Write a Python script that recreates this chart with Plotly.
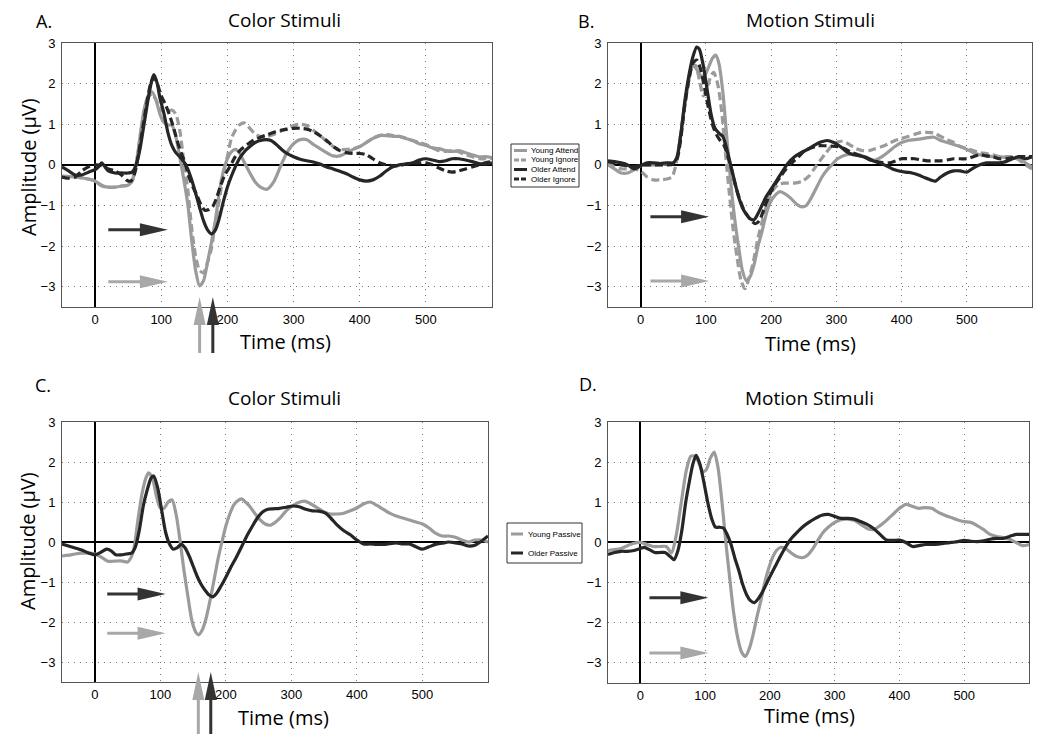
import plotly.graph_objects as go

W, H = 1050, 734
PAGE_OFFSET = 8  # browser body margin: the figure is drawn 8px right/down in the window

# ---------------- data (time ms, amplitude uV) ----------------
A_YOUNG_ATTEND = [(-50,-0.28),(-30,-0.3),(-10,-0.35),(0,-0.4),(10,-0.52),(20,-0.55),(30,-0.55),(40,-0.52),(50,-0.5),(56,-0.4),(62,0.0),(68,0.7),(74,1.35),(80,1.7),(86,1.8),(92,1.6),(98,1.25),(104,1.05),(110,0.98),(116,0.98),(122,0.7),(128,0.2),(134,-0.35),(140,-0.95),(146,-1.85),(152,-2.6),(158,-2.98),(164,-2.85),(170,-2.4),(176,-1.9),(182,-1.35),(188,-0.65),(194,-0.15),(200,0.15),(206,0.32),(212,0.38),(218,0.3),(226,0.05),(234,-0.2),(242,-0.42),(250,-0.55),(260,-0.6),(270,-0.42),(280,-0.05),(290,0.3),(300,0.52),(310,0.62),(320,0.62),(330,0.5),(340,0.4),(350,0.3),(360,0.22),(370,0.22),(380,0.3),(390,0.38),(400,0.45),(410,0.55),(420,0.65),(430,0.72),(440,0.72),(450,0.7),(460,0.7),(470,0.65),(480,0.6),(490,0.52),(500,0.48),(510,0.42),(520,0.4),(530,0.35),(540,0.33),(550,0.35),(560,0.3),(570,0.25),(580,0.2),(590,0.2),(600,0.18)]
A_YOUNG_IGNORE = [(-50,-0.3),(-30,-0.3),(-10,-0.35),(0,-0.4),(10,-0.5),(20,-0.55),(30,-0.55),(40,-0.52),(50,-0.5),(56,-0.4),(62,0.0),(68,0.7),(74,1.3),(80,1.65),(86,1.75),(92,1.6),(98,1.4),(104,1.3),(110,1.32),(116,1.35),(122,1.25),(128,0.85),(134,0.1),(140,-0.6),(146,-1.55),(152,-2.25),(158,-2.6),(164,-2.66),(170,-2.4),(176,-2.05),(182,-1.4),(188,-0.85),(194,-0.2),(200,0.2),(206,0.65),(212,0.85),(218,0.98),(226,1.03),(234,0.9),(242,0.76),(250,0.7),(260,0.7),(270,0.75),(280,0.82),(290,0.9),(300,0.97),(310,1.0),(320,0.97),(330,0.85),(340,0.72),(350,0.58),(360,0.45),(370,0.38),(380,0.38),(390,0.4),(400,0.45),(410,0.55),(420,0.65),(430,0.72),(440,0.75),(450,0.72),(460,0.7),(470,0.65),(480,0.6),(490,0.55),(500,0.5),(510,0.42),(520,0.35),(530,0.33),(540,0.35),(550,0.32),(560,0.25),(570,0.2),(580,0.15),(590,0.15),(600,0.15)]
A_OLDER_ATTEND = [(-50,-0.05),(-40,-0.15),(-30,-0.25),(-20,-0.25),(-10,-0.18),(0,-0.12),(5,-0.05),(10,0.05),(15,-0.05),(20,-0.15),(30,-0.2),(40,-0.2),(50,-0.2),(56,-0.18),(62,0.0),(68,0.4),(74,1.0),(80,1.6),(86,2.1),(89,2.22),(94,2.0),(98,1.65),(104,1.27),(110,0.8),(116,0.48),(122,0.3),(128,0.2),(134,0.08),(140,-0.1),(146,-0.37),(152,-0.7),(158,-1.05),(164,-1.38),(170,-1.6),(176,-1.7),(182,-1.6),(188,-1.3),(194,-0.9),(200,-0.55),(206,-0.28),(212,-0.05),(218,0.15),(226,0.33),(234,0.45),(242,0.55),(250,0.6),(258,0.62),(266,0.6),(274,0.5),(282,0.38),(290,0.28),(300,0.2),(310,0.14),(320,0.1),(330,0.07),(340,0.02),(350,-0.05),(360,-0.1),(370,-0.16),(380,-0.22),(390,-0.3),(400,-0.37),(410,-0.4),(420,-0.37),(430,-0.28),(440,-0.15),(450,-0.05),(460,0.0),(470,0.02),(480,0.05),(490,0.12),(500,0.15),(510,0.12),(520,0.08),(530,0.1),(540,0.15),(550,0.15),(560,0.12),(570,0.08),(580,0.03),(590,0.02),(600,0.05)]
A_OLDER_IGNORE = [(-50,-0.3),(-40,-0.33),(-30,-0.3),(-20,-0.15),(-10,-0.05),(0,0.0),(10,-0.02),(20,-0.1),(30,-0.15),(40,-0.25),(48,-0.38),(54,-0.4),(60,-0.2),(66,0.3),(72,0.9),(78,1.5),(84,2.0),(89,2.15),(94,2.0),(100,1.7),(106,1.5),(112,1.25),(118,0.95),(124,0.6),(130,0.3),(136,0.05),(142,-0.3),(148,-0.55),(154,-0.75),(160,-0.98),(166,-1.12),(172,-1.1),(178,-1.02),(184,-0.8),(190,-0.5),(196,-0.25),(204,-0.04),(212,0.2),(220,0.37),(230,0.5),(240,0.61),(250,0.68),(260,0.74),(270,0.8),(284,0.86),(300,0.9),(310,0.9),(320,0.88),(330,0.82),(340,0.72),(350,0.6),(360,0.45),(370,0.35),(380,0.3),(390,0.28),(400,0.28),(410,0.25),(420,0.15),(430,0.05),(440,0.0),(450,-0.02),(460,-0.02),(470,0.02),(480,0.04),(490,0.05),(500,0.05),(510,0.0),(520,-0.08),(530,-0.15),(540,-0.18),(550,-0.15),(560,-0.1),(570,-0.05),(580,0.0),(590,0.05),(600,0.08)]

B_YOUNG_ATTEND = [(-50,0.0),(-40,-0.1),(-30,-0.2),(-20,-0.2),(-10,-0.12),(0,-0.02),(10,0.0),(20,0.0),(30,0.0),(40,0.02),(50,0.05),(56,0.2),(62,0.8),(68,1.5),(74,2.1),(80,2.45),(86,2.35),(92,2.2),(98,2.2),(104,2.4),(110,2.62),(115,2.7),(120,2.5),(126,1.8),(132,0.7),(138,-0.4),(144,-1.3),(150,-2.0),(156,-2.6),(162,-2.85),(168,-2.75),(174,-2.45),(180,-2.0),(186,-1.65),(192,-1.25),(198,-0.95),(206,-0.75),(214,-0.66),(222,-0.72),(230,-0.82),(238,-0.95),(246,-1.03),(254,-1.0),(262,-0.8),(270,-0.55),(278,-0.3),(286,-0.12),(294,0.02),(302,0.15),(310,0.22),(320,0.26),(330,0.27),(340,0.22),(350,0.15),(360,0.12),(370,0.2),(380,0.32),(390,0.45),(400,0.55),(410,0.6),(420,0.62),(430,0.64),(440,0.67),(450,0.68),(460,0.6),(470,0.55),(480,0.5),(490,0.45),(500,0.38),(510,0.3),(520,0.25),(530,0.22),(540,0.2),(550,0.2),(560,0.18),(570,0.17),(580,0.15),(590,0.05),(600,-0.05)]
B_YOUNG_IGNORE = [(-50,0.05),(-40,-0.05),(-30,-0.1),(-20,-0.1),(-10,-0.1),(0,-0.15),(10,-0.3),(20,-0.37),(30,-0.37),(40,-0.35),(48,-0.3),(54,0.0),(60,0.6),(66,1.3),(72,1.9),(78,2.4),(84,2.45),(90,2.1),(96,1.7),(102,1.9),(108,2.2),(112,2.28),(118,2.0),(124,1.35),(130,0.3),(136,-0.7),(142,-1.6),(148,-2.3),(154,-2.85),(160,-3.05),(166,-2.8),(172,-2.45),(180,-1.8),(188,-1.3),(196,-0.86),(204,-0.6),(212,-0.48),(220,-0.45),(236,-0.45),(248,-0.4),(258,-0.28),(266,-0.1),(274,0.08),(282,0.25),(292,0.45),(300,0.55),(310,0.58),(320,0.5),(330,0.4),(340,0.35),(350,0.35),(360,0.4),(370,0.45),(380,0.52),(390,0.6),(400,0.65),(410,0.7),(420,0.75),(430,0.8),(440,0.8),(450,0.78),(460,0.7),(470,0.62),(480,0.55),(490,0.45),(500,0.4),(510,0.35),(520,0.3),(530,0.28),(540,0.25),(550,0.2),(560,0.2),(570,0.2),(580,0.12),(590,0.0),(600,-0.1)]
B_OLDER_ATTEND = [(-50,0.1),(-40,0.08),(-30,0.05),(-20,0.0),(-10,-0.1),(0,-0.02),(10,0.05),(20,0.05),(30,0.03),(40,0.05),(50,0.05),(56,0.2),(62,0.8),(68,1.6),(74,2.2),(80,2.65),(86,2.9),(90,2.85),(96,2.45),(102,1.85),(108,1.25),(114,0.9),(120,0.78),(126,0.7),(132,0.4),(138,0.0),(144,-0.4),(150,-0.78),(156,-1.05),(162,-1.22),(168,-1.33),(174,-1.35),(180,-1.2),(186,-1.0),(192,-0.8),(200,-0.6),(208,-0.4),(216,-0.2),(226,0.04),(236,0.2),(246,0.3),(256,0.38),(266,0.48),(276,0.56),(286,0.6),(296,0.55),(306,0.45),(316,0.32),(326,0.25),(336,0.22),(346,0.18),(356,0.1),(366,0.05),(376,-0.02),(386,-0.1),(396,-0.15),(406,-0.18),(416,-0.2),(426,-0.25),(436,-0.32),(446,-0.38),(452,-0.4),(460,-0.3),(470,-0.2),(480,-0.15),(490,-0.15),(500,-0.18),(510,-0.08),(520,0.0),(530,0.05),(540,0.05),(550,0.05),(560,0.08),(570,0.15),(580,0.2),(590,0.15),(600,0.2)]
B_OLDER_IGNORE = [(-50,0.08),(-40,0.05),(-30,0.0),(-20,-0.02),(-10,-0.05),(0,0.0),(10,0.0),(20,0.0),(30,0.0),(40,0.0),(50,0.02),(56,0.15),(62,0.7),(68,1.5),(74,2.1),(80,2.5),(86,2.58),(92,2.35),(98,1.9),(104,1.4),(110,1.0),(116,0.75),(122,0.6),(128,0.48),(134,0.2),(140,-0.15),(146,-0.55),(152,-0.85),(158,-1.1),(164,-1.25),(170,-1.38),(176,-1.45),(182,-1.38),(190,-1.05),(198,-0.72),(206,-0.48),(214,-0.3),(222,-0.12),(232,0.05),(242,0.2),(252,0.35),(262,0.42),(272,0.47),(282,0.47),(292,0.46),(302,0.45),(312,0.4),(322,0.32),(332,0.25),(342,0.2),(352,0.12),(362,0.08),(372,0.05),(382,0.05),(392,0.1),(400,0.15),(410,0.15),(420,0.15),(430,0.12),(440,0.1),(450,0.1),(460,0.1),(470,0.12),(480,0.15),(490,0.15),(500,0.15),(510,0.2),(520,0.25),(530,0.22),(540,0.2),(550,0.15),(560,0.15),(570,0.18),(580,0.2),(590,0.2),(600,0.2)]

C_YOUNG_PASSIVE = [(-50,-0.35),(-40,-0.33),(-30,-0.3),(-20,-0.28),(-10,-0.28),(0,-0.3),(10,-0.38),(20,-0.48),(30,-0.48),(40,-0.47),(50,-0.5),(55,-0.4),(60,-0.15),(66,0.57),(72,1.2),(78,1.6),(82,1.73),(88,1.6),(94,1.15),(100,0.85),(106,0.85),(112,1.0),(118,1.05),(124,0.7),(130,0.05),(136,-0.7),(142,-1.35),(148,-1.95),(154,-2.25),(158,-2.32),(164,-2.2),(170,-1.9),(176,-1.45),(182,-0.95),(188,-0.43),(194,0.0),(200,0.4),(206,0.7),(212,0.92),(218,1.03),(224,1.08),(230,1.0),(236,0.9),(244,0.72),(252,0.56),(260,0.45),(268,0.42),(276,0.5),(284,0.62),(292,0.78),(300,0.88),(310,0.98),(320,1.02),(330,0.95),(340,0.85),(350,0.75),(360,0.7),(370,0.7),(380,0.72),(390,0.78),(400,0.85),(410,0.95),(420,1.0),(430,0.92),(440,0.82),(450,0.72),(460,0.65),(470,0.6),(480,0.55),(490,0.5),(500,0.45),(510,0.35),(520,0.22),(530,0.15),(540,0.15),(550,0.12),(560,0.05),(570,0.0),(580,0.05),(590,0.05),(600,0.0)]
C_OLDER_PASSIVE = [(-50,-0.05),(-40,-0.1),(-30,-0.15),(-20,-0.2),(-10,-0.27),(0,-0.32),(10,-0.25),(18,-0.18),(25,-0.22),(32,-0.32),(40,-0.32),(48,-0.3),(56,-0.28),(62,-0.12),(68,0.3),(74,0.9),(80,1.3),(86,1.6),(90,1.65),(96,1.35),(102,0.8),(108,0.25),(114,-0.05),(120,-0.18),(126,-0.14),(132,-0.06),(138,-0.15),(144,-0.35),(150,-0.6),(156,-0.85),(162,-1.05),(168,-1.2),(174,-1.32),(180,-1.37),(186,-1.28),(192,-1.12),(200,-0.88),(208,-0.62),(216,-0.38),(224,-0.12),(232,0.15),(240,0.38),(248,0.6),(256,0.75),(264,0.82),(272,0.83),(282,0.84),(292,0.87),(302,0.9),(312,0.88),(322,0.82),(332,0.78),(342,0.77),(352,0.72),(360,0.6),(370,0.42),(380,0.28),(390,0.18),(400,0.05),(410,-0.05),(420,-0.05),(430,-0.06),(440,-0.06),(450,-0.04),(460,-0.02),(470,-0.05),(480,-0.05),(490,-0.12),(500,-0.18),(510,-0.12),(520,-0.06),(530,-0.03),(540,0.0),(550,-0.02),(560,-0.05),(570,-0.1),(580,-0.08),(590,0.02),(600,0.15)]

D_YOUNG_PASSIVE = [(-50,-0.2),(-40,-0.18),(-30,-0.15),(-20,-0.08),(-10,-0.02),(0,0.0),(10,-0.05),(20,-0.1),(30,-0.1),(40,-0.1),(48,-0.26),(55,0.15),(63,0.98),(71,1.8),(78,2.15),(84,2.15),(90,2.0),(96,1.76),(102,1.82),(108,2.1),(114,2.25),(120,1.85),(126,1.0),(132,0.0),(138,-0.9),(144,-1.75),(150,-2.35),(156,-2.72),(162,-2.84),(168,-2.65),(174,-2.3),(180,-1.85),(186,-1.45),(192,-1.0),(198,-0.65),(204,-0.38),(210,-0.2),(217,-0.12),(224,-0.15),(232,-0.25),(240,-0.34),(250,-0.38),(258,-0.32),(266,-0.16),(274,0.05),(282,0.25),(290,0.38),(300,0.5),(310,0.57),(320,0.58),(330,0.55),(340,0.45),(350,0.35),(360,0.32),(370,0.42),(380,0.55),(390,0.7),(400,0.85),(410,0.95),(420,0.9),(430,0.85),(440,0.87),(450,0.85),(460,0.75),(470,0.68),(480,0.62),(490,0.56),(500,0.52),(510,0.5),(520,0.42),(530,0.32),(540,0.2),(550,0.15),(560,0.12),(570,0.08),(580,0.0),(590,-0.08),(600,-0.05)]
D_OLDER_PASSIVE = [(-50,-0.3),(-40,-0.25),(-30,-0.22),(-20,-0.22),(-10,-0.2),(0,-0.15),(6,-0.12),(14,-0.18),(22,-0.25),(30,-0.25),(38,-0.25),(46,-0.35),(52,-0.43),(58,-0.2),(64,0.3),(70,1.0),(76,1.55),(81,1.95),(86,2.17),(92,1.95),(98,1.5),(104,1.0),(110,0.6),(116,0.38),(122,0.38),(128,0.36),(134,0.2),(140,-0.05),(146,-0.4),(152,-0.7),(158,-1.05),(164,-1.3),(170,-1.45),(176,-1.5),(182,-1.4),(188,-1.25),(194,-1.05),(200,-0.85),(208,-0.6),(216,-0.35),(224,-0.12),(232,0.08),(240,0.22),(250,0.38),(260,0.5),(270,0.6),(280,0.68),(290,0.7),(300,0.65),(310,0.6),(320,0.6),(330,0.58),(340,0.52),(350,0.45),(360,0.35),(370,0.2),(380,0.06),(390,0.05),(400,0.06),(410,0.0),(420,-0.1),(430,-0.08),(440,-0.05),(450,-0.05),(460,-0.04),(470,-0.02),(480,0.0),(490,0.02),(500,0.05),(510,0.03),(520,0.02),(530,0.04),(540,0.08),(550,0.1),(560,0.1),(570,0.15),(580,0.2),(590,0.2),(600,0.2)]

X_TICKS = [0, 100, 200, 300, 400, 500]
Y_TICKS = [-3, -2, -1, 0, 1, 2, 3]
X_RANGE = [-50, 600]
Y_RANGE = [-3.5, 3]

PANEL_TITLES = ["Color Stimuli", "Motion Stimuli", "Color Stimuli", "Motion Stimuli"]
PANEL_LETTERS = ["A.", "B.", "C.", "D."]
LEGEND_TOP = ["Young Attend", "Young Ignore", "Older Attend", "Older Ignore"]
LEGEND_BOTTOM = ["Young Passive", "Older Passive"]

# horizontal arrows: (start ms, tip ms, amplitude) — dark then gray
H_ARROWS = {
    "A": [(20, 110, -1.6), (20, 110, -2.88)],
    "B": [(15, 105, -1.28), (15, 105, -2.86)],
    "C": [(19, 108, -1.3), (19, 108, -2.28)],
    "D": [(14, 105, -1.38), (14, 105, -2.75)],
}
# vertical latency arrows below axis: (gray latency, dark latency)
V_ARROWS = {"A": (158, 178), "C": (158, 177)}

# ---------------- style ----------------
GRAY = "#9b9b9b"
DARK = "#262626"
ARROW_GRAY = "#a8a8a8"
ARROW_DARK = "#333333"
TICK_FONT = dict(family="Liberation Sans, Arial, sans-serif", size=13, color="black")
TITLE_FONT = "Open Sans, Noto Sans, sans-serif"


def px_x(px):
    return (px - PAGE_OFFSET) / W


def px_y(py):
    return 1 - (py - PAGE_OFFSET) / H


# panel pixel boxes (window pixels): left, right, top, bottom
PANELS = {
    "A": dict(ax="", box=(62, 492, 43, 307), title=(284, 20), letter=(44, 8), xt=(285, 342), yt=(28, 167)),
    "B": dict(ax="2", box=(608, 1032, 43, 307), title=(810, 20), letter=(586, 8), xt=(810, 343), yt=None),
    "C": dict(ax="3", box=(62, 488, 422, 682), title=(284, 398), letter=(43, 385), xt=(283, 717), yt=(27, 541)),
    "D": dict(ax="4", box=(608, 1029, 422, 683), title=(809, 398), letter=(588, 384), xt=(809, 715), yt=None),
}

SERIES = {
    "A": [(A_YOUNG_ATTEND, GRAY, "solid"), (A_YOUNG_IGNORE, GRAY, "8px,4px"),
          (A_OLDER_IGNORE, DARK, "8px,4px"), (A_OLDER_ATTEND, DARK, "solid")],
    "B": [(B_YOUNG_ATTEND, GRAY, "solid"), (B_YOUNG_IGNORE, GRAY, "8px,4px"),
          (B_OLDER_IGNORE, DARK, "8px,4px"), (B_OLDER_ATTEND, DARK, "solid")],
    "C": [(C_YOUNG_PASSIVE, GRAY, "solid"), (C_OLDER_PASSIVE, DARK, "solid")],
    "D": [(D_YOUNG_PASSIVE, GRAY, "solid"), (D_OLDER_PASSIVE, DARK, "solid")],
}

fig = go.Figure()
shapes = []
annotations = []
layout = {}

for i, (key, p) in enumerate(PANELS.items()):
    a = p["ax"]
    xref, yref = "x" + a, "y" + a
    l, r, t, b = p["box"]
    for series, color, dash in SERIES[key]:
        xs = [v[0] for v in series]
        ys = [v[1] for v in series]
        fig.add_trace(go.Scatter(
            x=xs, y=ys, mode="lines", xaxis=xref, yaxis=yref,
            line=dict(color=color, width=3.2, dash=dash, shape="spline", smoothing=0.7),
            showlegend=False, hoverinfo="skip"))
    common = dict(showgrid=True, gridcolor="#7a7a7a", gridwidth=1, griddash="1px,5px",
                  showline=True, mirror=True, linecolor="#555555", linewidth=1,
                  ticks="", tickfont=TICK_FONT, zeroline=True, zerolinecolor="black",
                  zerolinewidth=1.5, fixedrange=True, automargin=False)
    layout["xaxis" + a] = dict(domain=[px_x(l), px_x(r)], range=X_RANGE, tickvals=X_TICKS,
                               anchor=yref, **common)
    layout["yaxis" + a] = dict(domain=[px_y(b), px_y(t)], range=Y_RANGE, tickvals=Y_TICKS,
                               anchor=xref, ticklabelstandoff=3, **common)

    # titles / labels
    annotations.append(dict(text=PANEL_TITLES[i], x=px_x(p["title"][0]), y=px_y(p["title"][1]),
                            xref="paper", yref="paper", showarrow=False, xanchor="center", yanchor="middle",
                            font=dict(family=TITLE_FONT, size=19, color="black")))
    letter_top = key in ("A", "B")
    annotations.append(dict(text=PANEL_LETTERS[i], x=px_x(p["letter"][0]), y=px_y(p["letter"][1]),
                            xref="paper", yref="paper", showarrow=False, xanchor="center",
                            yanchor="top" if letter_top else "middle", borderpad=0,
                            font=dict(family=TITLE_FONT, size=18, color="black")))
    annotations.append(dict(text="Time (ms)", x=px_x(p["xt"][0]), y=px_y(p["xt"][1]),
                            xref="paper", yref="paper", showarrow=False, xanchor="center", yanchor="middle",
                            font=dict(family=TITLE_FONT, size=20, color="black")))
    if p["yt"]:
        annotations.append(dict(text="Amplitude (μV)", x=px_x(p["yt"][0]), y=px_y(p["yt"][1]),
                                xref="paper", yref="paper", showarrow=False, textangle=-90,
                                xanchor="center", yanchor="middle",
                                font=dict(family=TITLE_FONT, size=20, color="black")))

    # horizontal arrows
    for (x0, tip, yv), col in zip(H_ARROWS[key], [ARROW_DARK, ARROW_GRAY]):
        shapes.append(dict(type="line", xref=xref, yref=yref, x0=x0, x1=tip - 20, y0=yv, y1=yv,
                           line=dict(color=col, width=3)))
        shapes.append(dict(type="path", xref=xref, yref=yref, xsizemode="pixel", ysizemode="pixel",
                           xanchor=tip, yanchor=yv, path="M0,0 L-28,6.5 L-28,-6.5 Z",
                           fillcolor=col, line=dict(color=col, width=0)))
    # vertical latency arrows below the axis
    if key in V_ARROWS:
        ybot = px_y(b)
        tail = -46 if key == "A" else -60
        for lat, col in zip(V_ARROWS[key], [ARROW_GRAY, ARROW_DARK]):
            shapes.append(dict(type="line", xref=xref, yref="paper", ysizemode="pixel", yanchor=ybot,
                               x0=lat, x1=lat, y0=tail, y1=-10, line=dict(color=col, width=3)))
            shapes.append(dict(type="path", xref=xref, yref="paper", xsizemode="pixel", ysizemode="pixel",
                               xanchor=lat, yanchor=ybot, path="M0,10 L-6,-18 L6,-18 Z",
                               fillcolor=col, line=dict(color=col, width=0)))

# ---------------- manual legends ----------------
LEG_FONT = dict(family="Liberation Sans, Arial, sans-serif", size=8, color="black")


def add_legend(box, rows, labels, styles, sym_x, text_x):
    l, r, t, b = box
    shapes.append(dict(type="rect", xref="paper", yref="paper", x0=px_x(l), x1=px_x(r),
                       y0=px_y(b), y1=px_y(t), line=dict(color="#333333", width=1), fillcolor="white"))
    for row, lab, (col, dash) in zip(rows, labels, styles):
        shapes.append(dict(type="line", xref="paper", yref="paper", x0=px_x(sym_x[0]), x1=px_x(sym_x[1]),
                           y0=px_y(row), y1=px_y(row), line=dict(color=col, width=3, dash=dash)))
        annotations.append(dict(text=lab, x=px_x(text_x), y=px_y(row), xref="paper", yref="paper",
                                showarrow=False, xanchor="left", yanchor="middle", font=LEG_FONT))


add_legend((511, 579, 144, 187), [150.5, 160, 169.5, 179], LEGEND_TOP,
           [(GRAY, "solid"), (GRAY, "5px,2px"), (DARK, "solid"), (DARK, "5px,2px")], (514, 527), 529)
add_legend((507, 582, 523, 563), [534, 553], LEGEND_BOTTOM,
           [(GRAY, "solid"), (DARK, "solid")], (511, 523), 526)

fig.update_layout(width=W, height=H, autosize=False, margin=dict(l=0, r=0, t=0, b=0),
                  paper_bgcolor="white", plot_bgcolor="white", showlegend=False,
                  shapes=shapes, annotations=annotations, **layout)

fig.write_html("out.html")
